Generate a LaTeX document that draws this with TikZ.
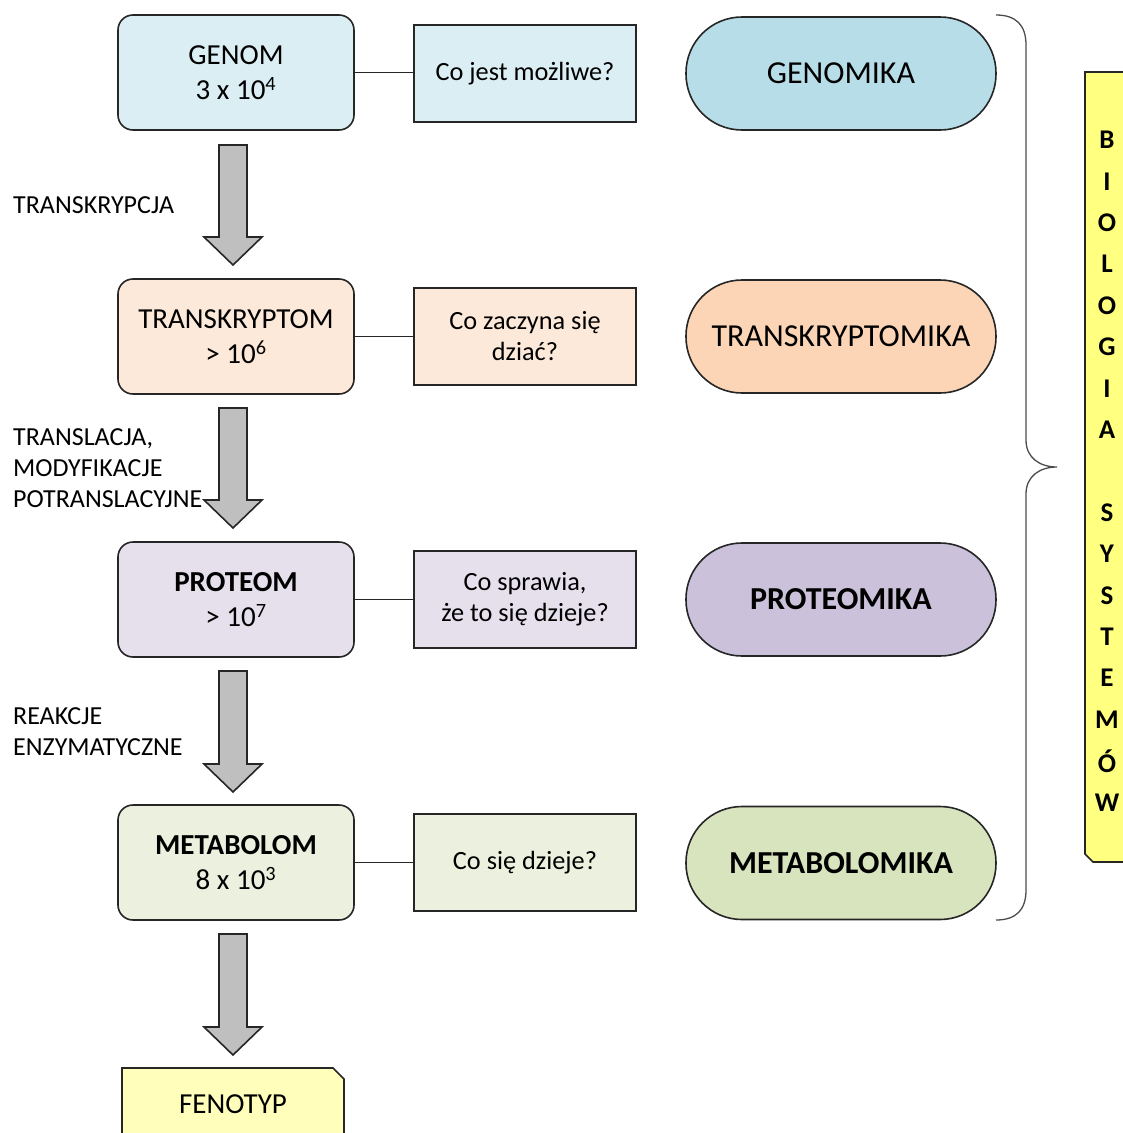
\documentclass[tikz,border=0pt]{standalone}
\usepackage{fontspec}
\setmainfont{Carlito}
\usetikzlibrary{calc}
\definecolor{edge}{HTML}{262626}
\definecolor{gA}{HTML}{DBEEF4}\definecolor{gB}{HTML}{B7DEE8}
\definecolor{tA}{HTML}{FDE9D9}\definecolor{tB}{HTML}{FBD5B5}
\definecolor{pA}{HTML}{E5E0EC}\definecolor{pB}{HTML}{CCC1DA}
\definecolor{mA}{HTML}{EBF1DE}\definecolor{mB}{HTML}{D7E4BD}
\definecolor{yA}{HTML}{FFFF80}\definecolor{yB}{HTML}{FFFFBB}
\definecolor{arr}{HTML}{BFBFBF}
\tikzset{
  x=1pt,y=-1pt,
  every node/.style={font=\fontsize{29}{35}\selectfont},
  levelbox/.style={draw=edge,line width=1.6pt,rounded corners=15pt,minimum width=236pt,minimum height=115pt,align=center,inner sep=0pt},
  qbox/.style={draw=edge,line width=1.6pt,minimum width=222pt,minimum height=97pt,align=center,inner sep=0pt,font=\fontsize{26.3}{31}\selectfont},
  omics/.style={draw=edge,line width=1.6pt,rounded corners=56pt,minimum width=310pt,minimum height=113pt,align=center,inner sep=0pt,font=\fontsize{32}{35}\selectfont},
  sidelabel/.style={anchor=west,align=left,inner sep=0pt,font=\fontsize{26}{31}\selectfont},
  link/.style={draw=edge,line width=1pt},
  blockarrow/.style={draw=edge,line width=1.6pt,fill=arr,line join=miter},
  bracestyle/.style={draw=black!70,line width=1.3pt}
}
\newcommand{\downarrowblock}[2]{%
  \path[blockarrow] (219,#1) -- (247,#1) -- (247,#2-28) -- (262,#2-28) -- (233,#2) -- (204,#2-28) -- (219,#2-28) -- cycle;}
\begin{document}
\begin{tikzpicture}
\useasboundingbox (0,0) rectangle (1123,1133);
% level boxes
\node[levelbox,fill=gA] (genom) at (236,72.5) {GENOM\\3 x 10\textsuperscript{4}};
\node[levelbox,fill=tA] (trans) at (236,336.5) {TRANSKRYPTOM\\> 10\textsuperscript{6}};
\node[levelbox,fill=pA] (prot) at (236,599.5) {\textbf{PROTEOM}\\> 10\textsuperscript{7}};
\node[levelbox,fill=mA] (meta) at (236,862.5) {\textbf{METABOLOM}\\8 x 10\textsuperscript{3}};
% question boxes
\node[qbox,fill=gA] (q1) at (525,73.5) {Co jest możliwe?};
\node[qbox,fill=tA] (q2) at (525,336.5) {Co zaczyna się\\dziać?};
\node[qbox,fill=pA] (q3) at (525,599.5) {Co sprawia,\\że to się dzieje?};
\node[qbox,fill=mA] (q4) at (525,862.5) {Co się dzieje?};
% omics
\node[omics,fill=gB] (o1) at (841,73.5) {GENOMIKA};
\node[omics,fill=tB] (o2) at (841,336.5) {TRANSKRYPTOMIKA};
\node[omics,fill=pB] (o3) at (841,599.5) {\textbf{PROTEOMIKA}};
\node[omics,fill=mB] (o4) at (841,863) {\textbf{METABOLOMIKA}};
% links
\draw[link] (genom.east) -- (q1.west |- genom.east);
\draw[link] (trans.east) -- (q2.west);
\draw[link] (prot.east) -- (q3.west);
\draw[link] (meta.east) -- (q4.west);
% block arrows
\downarrowblock{145}{265}
\downarrowblock{408}{528}
\downarrowblock{671}{792}
\downarrowblock{934}{1055}
% side labels
\node[sidelabel] (l1) at (13,205) {TRANSKRYPCJA};
\node[sidelabel] (l2) at (13,468) {TRANSLACJA,\\MODYFIKACJE\\POTRANSLACYJNE};
\node[sidelabel] (l3) at (13,731.5) {REAKCJE\\ENZYMATYCZNE};
% fenotyp
\path[draw=edge,line width=1.6pt,fill=yB] (122,1068) -- (333,1068) -- (344,1079) -- (344,1145) -- (122,1145) -- cycle;
\node (fen) at (233,1104) {FENOTYP};
% brace
\path[bracestyle] (996,15) .. controls (1016,15) and (1026,25) .. (1026,45) -- (1026,440)
  .. controls (1026,458) and (1040,467) .. (1057,467)
  .. controls (1040,467) and (1026,476) .. (1026,494) -- (1026,890)
  .. controls (1026,910) and (1016,920) .. (996,920);
% systems biology box
\path[draw=edge,line width=1.6pt,fill=yA] (1085,72) -- (1135,72) -- (1135,862) -- (1093,862) -- (1085,854) -- cycle;
\foreach \ch [count=\i from 0] in {B,I,O,L,O,G,I,A,{},S,Y,S,T,E,M,Ó,W}
  \node[font=\fontsize{27}{30}\selectfont\bfseries] (s\i) at (1107,140+41.4*\i) {\ch};
\end{tikzpicture}
\end{document}
